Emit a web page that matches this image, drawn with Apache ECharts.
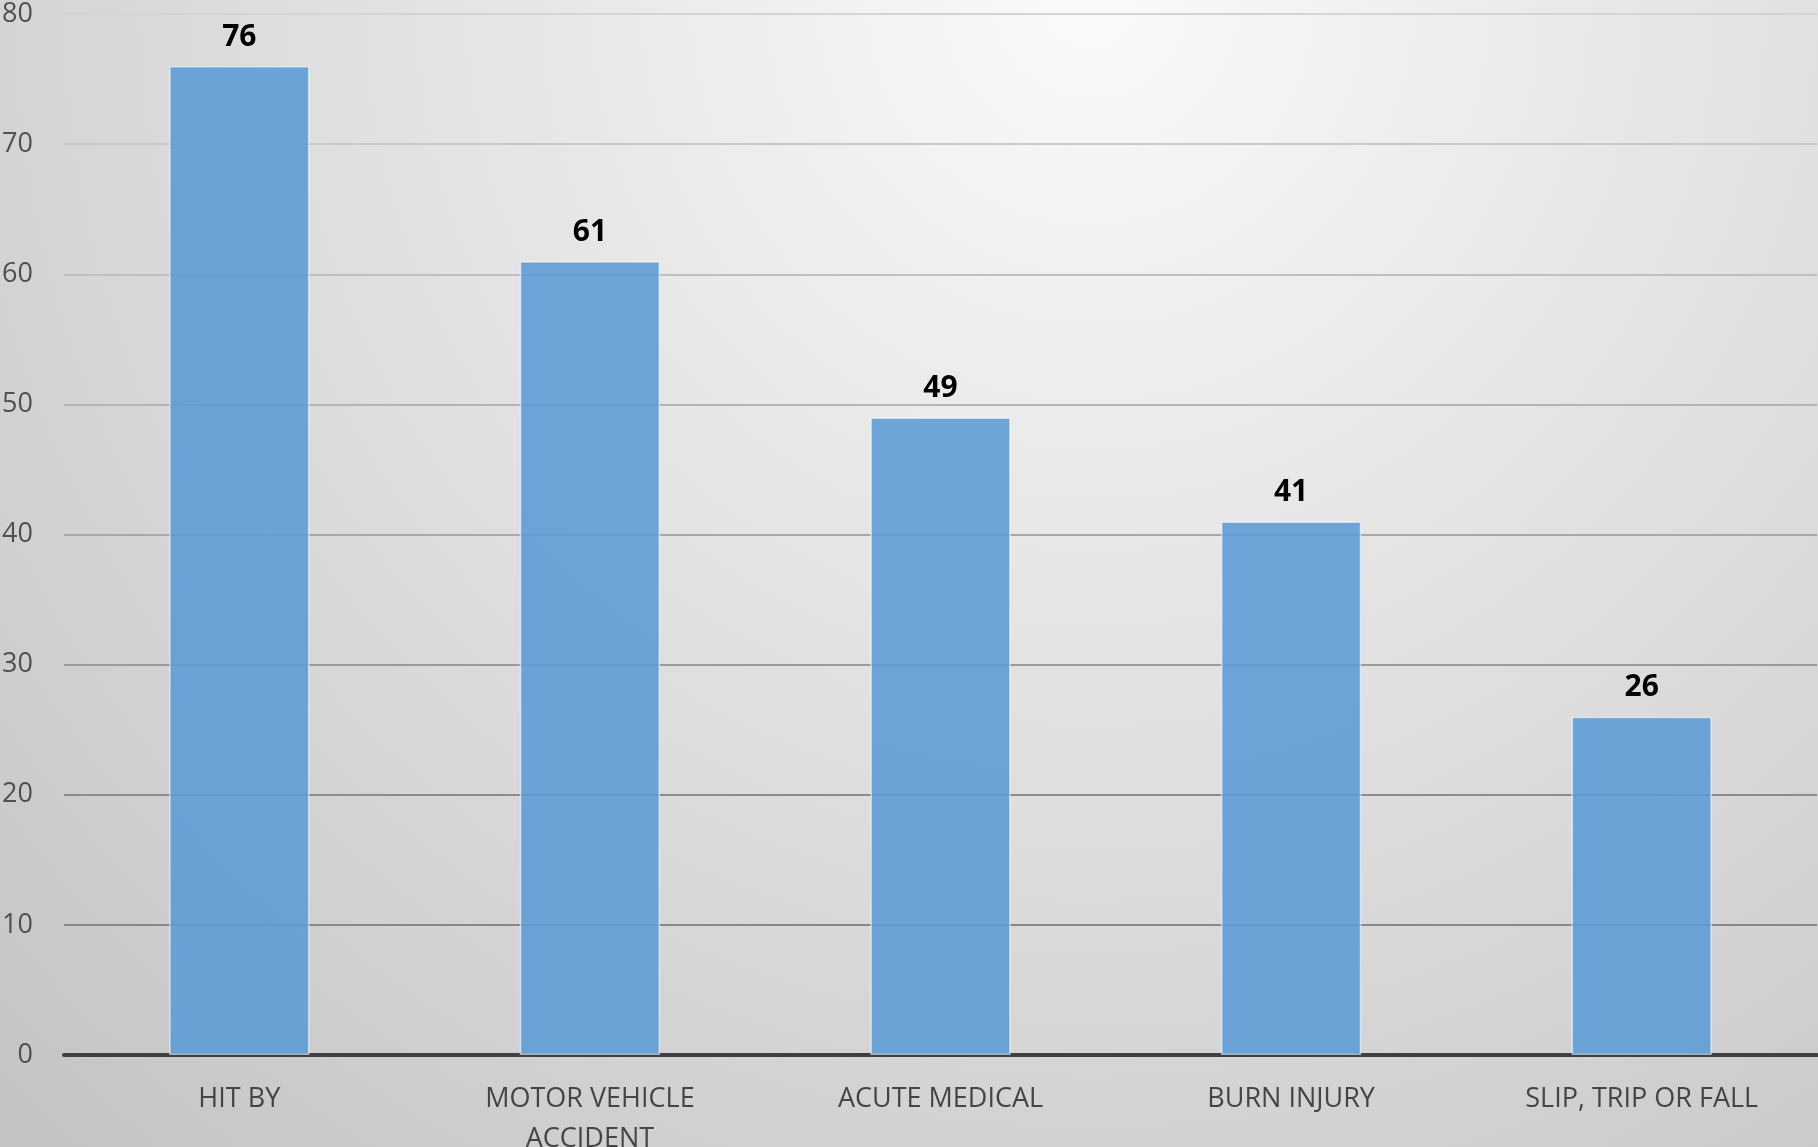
<!DOCTYPE html>
<html>
<head>
<meta charset="utf-8">
<script src="https://cdn.jsdelivr.net/npm/echarts@6/dist/echarts.min.js"></script>
<style>
html,body{margin:0;padding:0;width:1818px;height:1147px;overflow:hidden;}
#c{width:1818px;height:1147px;}
</style>
</head>
<body>
<div id="c"></div>
<script>
const categories = ['HIT BY', 'MOTOR VEHICLE\nACCIDENT', 'ACUTE MEDICAL', 'BURN INJURY', 'SLIP, TRIP OR FALL'];
const values = [76, 61, 49, 41, 26];
const yTicks = [0, 10, 20, 30, 40, 50, 60, 70, 80];

const chart = echarts.init(document.getElementById('c'));
chart.setOption({
  backgroundColor: {
    type: 'radial', x: 0.6, y: 0, r: 1.4,
    colorStops: [{offset: 0, color: '#fafafa'}, {offset: 1, color: '#c2c2c2'}]
  },
  animation: false,
  grid: {left: 64, right: 1, top: 14, bottom: 92, containLabel: false, outerBoundsMode: 'none'},
  xAxis: {
    type: 'category',
    data: categories,
    axisLine: {show: true, lineStyle: {color: '#404040', width: 4}},
    axisTick: {show: false},
    axisLabel: {
      color: '#454545', fontFamily: 'Open Sans', fontSize: 27, margin: 24,
      lineHeight: 40, interval: 0
    }
  },
  yAxis: {
    type: 'value',
    min: yTicks[0], max: yTicks[yTicks.length - 1], interval: 10,
    axisLine: {show: false},
    axisTick: {show: false},
    axisLabel: {color: '#505050', fontFamily: 'Open Sans', fontSize: 27, margin: 31},
    splitLine: {
      show: true,
      lineStyle: {
        width: 2,
        color: ['#808080', '#888888', '#8c8c8c', '#9a9a9a', '#a8a8a8', '#b4b4b4', '#bfbfbf', '#c9c9c9', '#d4d4d4']
      }
    }
  },
  series: [{
    type: 'bar',
    data: values,
    barWidth: '40%',
    itemStyle: {
      color: 'rgba(91,155,213,0.88)',
      borderColor: 'rgba(255,255,255,0.55)',
      borderWidth: 1.5
    },
    label: {
      show: true, position: 'top', distance: 14,
      color: '#000', fontFamily: 'Open Sans', fontWeight: 'bold', fontSize: 30
    }
  }]
});
</script>
</body>
</html>
